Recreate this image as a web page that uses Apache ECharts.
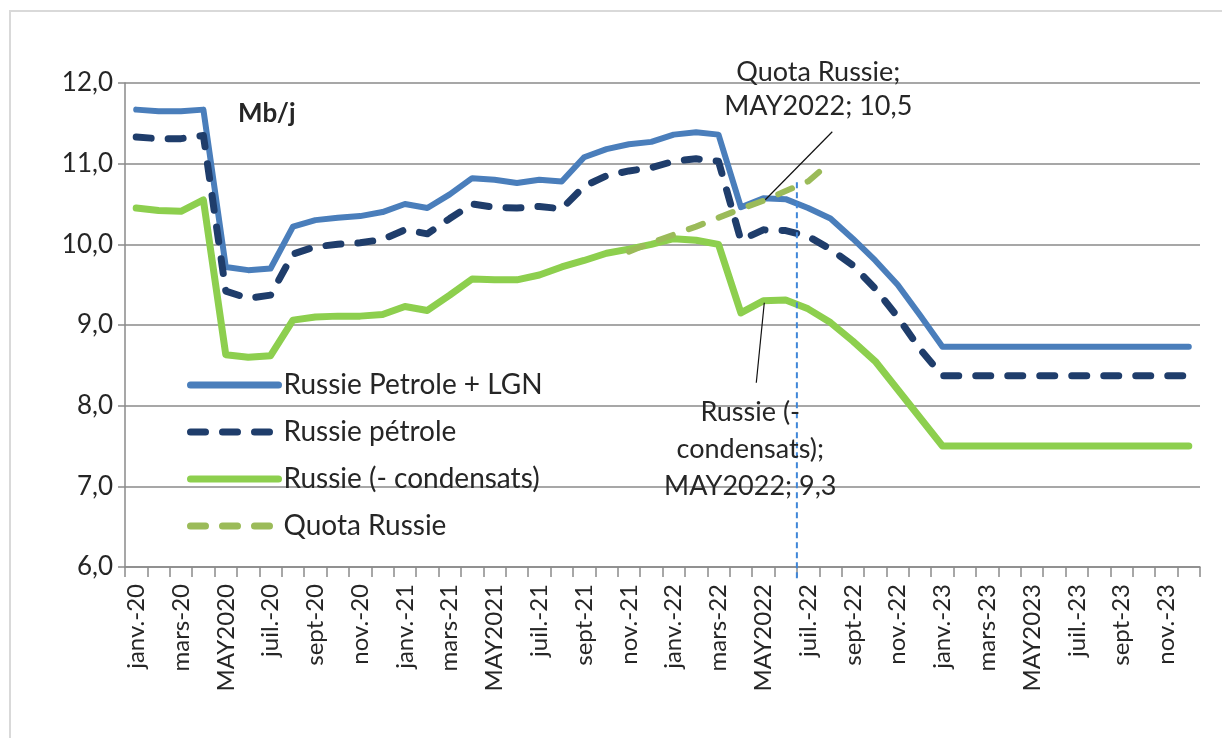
<!DOCTYPE html>
<html><head><meta charset="utf-8">
<script src="https://cdn.jsdelivr.net/npm/echarts@6/dist/echarts.min.js"></script>
<style>html,body{margin:0;padding:0;background:#fff}#c{width:1222px;height:738px}</style>
</head><body><div id="c"></div>
<script>
const categories = [
 'janv.-20','févr.-20','mars-20','avr.-20','MAY2020','juin-20','juil.-20','août-20','sept-20','oct.-20','nov.-20','déc.-20',
 'janv.-21','févr.-21','mars-21','avr.-21','MAY2021','juin-21','juil.-21','août-21','sept-21','oct.-21','nov.-21','déc.-21',
 'janv.-22','févr.-22','mars-22','avr.-22','MAY2022','juin-22','juil.-22','août-22','sept-22','oct.-22','nov.-22','déc.-22',
 'janv.-23','févr.-23','mars-23','avr.-23','MAY2023','juin-23','juil.-23','août-23','sept-23','oct.-23','nov.-23','déc.-23'];
const seriesNames = ['Russie Petrole + LGN','Russie pétrole','Russie (- condensats)','Quota Russie'];
const petroleLGN = [11.67,11.65,11.65,11.67,9.72,9.68,9.70,10.22,10.30,10.33,10.35,10.40,
 10.50,10.45,10.62,10.82,10.80,10.76,10.80,10.78,11.08,11.18,11.24,11.27,
 11.36,11.39,11.36,10.46,10.57,10.56,10.45,10.32,10.07,9.80,9.50,9.12,
 8.73,8.73,8.73,8.73,8.73,8.73,8.73,8.73,8.73,8.73,8.73,8.73];
const petrole = [11.33,11.31,11.31,11.35,9.42,9.33,9.37,9.88,9.97,10.00,10.02,10.06,
 10.18,10.13,10.32,10.50,10.46,10.45,10.47,10.44,10.72,10.85,10.91,10.95,
 11.03,11.06,11.03,10.05,10.18,10.17,10.10,9.94,9.74,9.45,9.10,8.70,
 8.37,8.37,8.37,8.37,8.37,8.37,8.37,8.37,8.37,8.37,8.37,8.37];
const condensats = [10.45,10.42,10.41,10.55,8.63,8.60,8.62,9.06,9.10,9.11,9.11,9.13,
 9.23,9.18,9.37,9.57,9.56,9.56,9.62,9.72,9.80,9.89,9.94,10.00,
 10.07,10.05,10.00,9.15,9.30,9.31,9.20,9.03,8.80,8.55,8.20,7.85,
 7.50,7.50,7.50,7.50,7.50,7.50,7.50,7.50,7.50,7.50,7.50,7.50];
const quota = [null,null,null,null,null,null,null,null,null,null,null,null,
 null,null,null,null,null,null,null,null,null,null,9.91,10.02,
 10.12,10.22,10.33,10.44,10.54,10.66,10.78,11.02,null,null,null,null,
 null,null,null,null,null,null,null,null,null,null,null,null];
const yMin = 6, yMax = 12, yStep = 1;
const annotIndex = 28;          // MAY2022
const markerBoundary = 30;      // boundary between juin-22 and juil.-22
const markerTop = 10.77;

const FONT = 'Lato, "Liberation Sans", sans-serif';
const TXT = '#262626';
const GRID = '#8a8a8a';
const fmt = v => v.toFixed(1).replace('.', ',');

const chart = echarts.init(document.getElementById('c'), null, {renderer: 'canvas'});
const option = {
  backgroundColor: '#fff',
  animation: false,
  title: {text: 'Mb/j', left: 233, top: 96, textStyle: {fontFamily: FONT, fontSize: 26, fontWeight: 'bold', color: TXT}},
  grid: {left: 125, right: 22, top: 83, bottom: 171, containLabel: false},
  legend: {
    data: seriesNames, orient: 'vertical', left: 182, top: 366,
    itemWidth: 88, itemHeight: 30, itemGap: 19,
    itemStyle: {opacity: 0},
    lineStyle: {width: 7, cap: 'round'},
    textStyle: {fontFamily: FONT, fontSize: 28, color: TXT}
  },
  xAxis: {
    type: 'category', data: categories, boundaryGap: true,
    axisLine: {lineStyle: {color: GRID, width: 1.5}},
    axisTick: {show: true, interval: 0, length: 10, lineStyle: {color: GRID, width: 1.5}},
    axisLabel: {interval: 1, rotate: 90, margin: 17, fontFamily: FONT, fontSize: 24, color: TXT},
    splitLine: {show: false}
  },
  yAxis: {
    type: 'value', min: yMin, max: yMax, interval: yStep,
    axisLine: {show: true, lineStyle: {color: GRID, width: 1.5}},
    axisTick: {show: true, length: 7, lineStyle: {color: GRID, width: 1.5}},
    axisLabel: {formatter: fmt, margin: 12, fontFamily: FONT, fontSize: 26, color: TXT},
    splitLine: {show: true, lineStyle: {color: GRID, width: 1.5}}
  },
  series: [
    {name: seriesNames[0], type: 'line', data: petroleLGN, symbol: 'none',
     lineStyle: {color: '#4A7EBB', width: 6, cap: 'round', join: 'round'}, itemStyle: {color: '#4A7EBB'}},
    {name: seriesNames[1], type: 'line', data: petrole, symbol: 'none',
     lineStyle: {color: '#1F3D6B', width: 7, type: [15, 17], cap: 'round', join: 'round'}, itemStyle: {color: '#1F3D6B'}},
    {name: seriesNames[2], type: 'line', data: condensats, symbol: 'none',
     lineStyle: {color: '#8DCF4E', width: 7, cap: 'round', join: 'round'}, itemStyle: {color: '#8DCF4E'}},
    {name: seriesNames[3], type: 'line', data: quota, symbol: 'none', connectNulls: false,
     lineStyle: {color: '#9BBB59', width: 6, type: [15, 17], cap: 'round', join: 'round'}, itemStyle: {color: '#9BBB59'}}
  ]
};
chart.setOption(option);

const px = (i, v) => chart.convertToPixel({gridIndex: 0}, [i, v]);
const pQ = px(annotIndex, quota[annotIndex]);
const pG = px(annotIndex, condensats[annotIndex]);
const xa = px(markerBoundary - 1, yMin)[0], xb = px(markerBoundary, yMin)[0];
const vx = (xa + xb) / 2;
const vTop = px(markerBoundary, markerTop)[1];
const vBot = px(markerBoundary, yMin)[1] + 13;
const quotaText = seriesNames[3] + ';\n' + categories[annotIndex] + '; ' + fmt(quota[annotIndex]);
const greenText = seriesNames[2].replace(' c', '\nc') + ';\n' + categories[annotIndex] + '; ' + fmt(condensats[annotIndex]);

chart.setOption({graphic: [
  {type: 'rect', shape: {x: 10, y: 11, width: 1400, height: 900}, style: {fill: 'none', stroke: '#d9d9d9', lineWidth: 2}, silent: true, z: -1},
  {type: 'line', shape: {x1: vx, y1: vTop, x2: vx, y2: vBot}, style: {stroke: '#3F86D8', lineWidth: 2, lineDash: [6, 4]}, z: 10},
  {type: 'line', shape: {x1: pQ[0] + 2, y1: pQ[1] - 1, x2: pQ[0] + 69, y2: pQ[1] - 69}, style: {stroke: '#111', lineWidth: 1.2}, z: 11},
  {type: 'line', shape: {x1: pG[0] + 1, y1: pG[1] + 2, x2: pG[0] - 7, y2: pG[1] + 82}, style: {stroke: '#111', lineWidth: 1.2}, z: 11},
  {type: 'text', x: pQ[0] + 55, y: pQ[1] - 111, z: 12,
   style: {text: quotaText, font: '27px ' + FONT, fill: TXT, align: 'center', verticalAlign: 'middle', lineHeight: 34}},
  {type: 'text', x: pG[0] - 13, y: pG[1] + 148, z: 12,
   style: {text: greenText, font: '27px ' + FONT, fill: TXT, align: 'center', verticalAlign: 'middle', lineHeight: 37}}
]});
</script></body></html>
